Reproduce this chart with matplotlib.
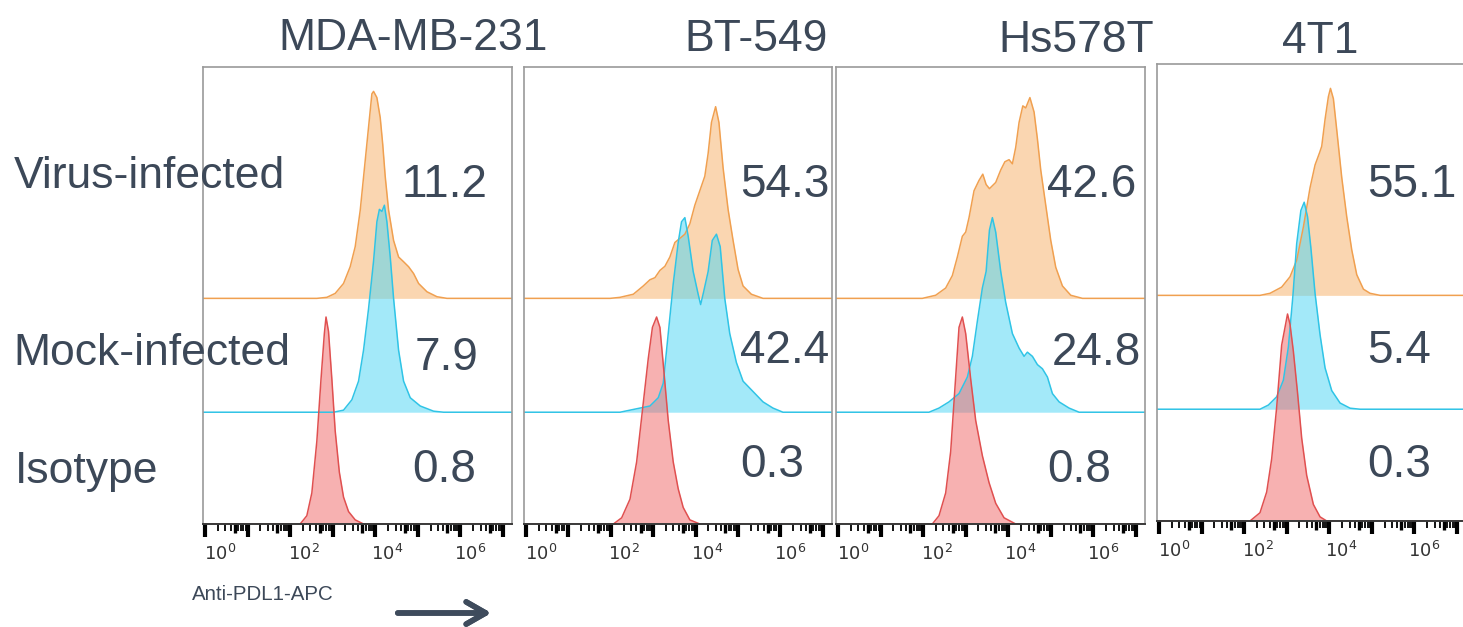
import numpy as np
import matplotlib.pyplot as plt

plt.rcParams['font.family'] = ['Liberation Sans', 'DejaVu Sans']

W, H = 1463, 627
TXT = '#3c4858'

cell_lines = ["MDA-MB-231", "BT-549", "Hs578T", "4T1"]
conditions = ["Virus-infected", "Mock-infected", "Isotype"]

# % PD-L1 positive per cell line
virus_pos = [11.2, 54.3, 42.6, 55.1]
mock_pos = [7.9, 42.4, 24.8, 5.4]
iso_pos = [0.8, 0.3, 0.8, 0.3]

# histograms: x = log10(APC), y = % of mode
mda_virus_x = [2.32, 2.56, 2.76, 2.96, 3.12, 3.24, 3.36, 3.48, 3.56, 3.64, 3.68, 3.76, 3.84, 3.90,
               3.96, 4.04, 4.16, 4.28, 4.40, 4.52, 4.64, 4.76, 4.96, 5.20, 5.44]
mda_virus_y = [0, 0.5, 2.4, 7.2, 15.3, 25, 42.5, 66.6, 82.7, 98.8, 100, 97, 87.3, 74.4,
               58.8, 42.7, 28, 20, 17.7, 15.3, 12, 7.2, 3.2, 0.8, 0]
mda_mock_x = [2.72, 2.96, 3.16, 3.32, 3.44, 3.56, 3.68, 3.76, 3.82, 3.88, 3.94, 4.00, 4.08, 4.16,
              4.28, 4.40, 4.56, 4.80, 5.12, 5.36]
mda_mock_y = [0, 1, 6, 15, 30, 50, 73, 92, 98, 97, 100, 92, 75, 55,
              30, 15, 7, 3, 0.5, 0]
mda_iso_x = [1.92, 2.08, 2.20, 2.32, 2.42, 2.50, 2.54, 2.60, 2.68, 2.76, 2.86, 2.96, 3.08, 3.24, 3.44]
mda_iso_y = [0, 4, 15, 40, 70, 92, 100, 93, 70, 45, 25, 13, 6, 2, 0]

bt_virus_x = [1.66, 1.90, 2.22, 2.46, 2.62, 2.74, 2.86, 2.98, 3.10, 3.22, 3.34, 3.46, 3.58, 3.70,
              3.82, 3.94, 4.02, 4.10, 4.20, 4.28, 4.38, 4.50, 4.62, 4.74, 4.86, 5.06, 5.34]
bt_virus_y = [0, 0.5, 2, 6, 9, 10, 13.5, 15.5, 20, 27, 29, 31, 36, 45,
              52, 59, 70, 85, 92.6, 85, 63, 43, 28, 14, 6, 2, 0]
bt_mock_x = [1.90, 2.14, 2.38, 2.62, 2.82, 2.94, 3.06, 3.18, 3.30, 3.38, 3.46, 3.54, 3.66, 3.78,
             3.84, 3.91, 4.02, 4.12, 4.22, 4.31, 4.42, 4.54, 4.70, 4.86, 5.10, 5.34, 5.58, 5.82]
bt_mock_y = [0, 1, 2, 3, 7, 14, 38, 62, 82, 92, 94, 85, 68, 57,
             52, 58, 68, 83, 86, 80, 55, 38, 24, 15, 10, 5, 2, 0]
bt_iso_x = [1.74, 1.94, 2.14, 2.30, 2.44, 2.58, 2.68, 2.78, 2.86, 2.95, 3.06, 3.18, 3.30, 3.42, 3.58, 3.82]
bt_iso_y = [0, 3, 12, 30, 55, 80, 95, 100, 95, 75, 50, 30, 17, 8, 2, 0]

hs_virus_x = [1.66, 1.98, 2.22, 2.38, 2.50, 2.62, 2.70, 2.78, 2.90, 3.02, 3.11, 3.19, 3.27, 3.42,
              3.54, 3.64, 3.74, 3.82, 3.90, 3.98, 4.07, 4.14, 4.24, 4.34, 4.42, 4.50, 4.62, 4.74,
              4.86, 5.02, 5.22, 5.50]
hs_virus_y = [0, 1.5, 5, 11, 20, 30, 32, 39, 52, 57, 60, 55, 53, 56,
              62, 66, 67, 65, 73, 85, 93, 92, 97, 90, 77, 62, 45, 28,
              15, 6, 1.5, 0]
hs_mock_x = [1.82, 2.06, 2.30, 2.54, 2.74, 2.86, 2.98, 3.10, 3.19, 3.27, 3.34, 3.42, 3.54, 3.66,
             3.82, 3.98, 4.10, 4.18, 4.30, 4.42, 4.54, 4.66, 4.78, 4.94, 5.18, 5.42]
hs_mock_y = [0, 2, 5, 9, 17, 27, 44, 60, 68, 88, 94, 87, 68, 53,
             38, 31, 27, 29, 27, 23, 21, 17, 9, 5, 2, 0]
hs_iso_x = [1.90, 2.06, 2.22, 2.34, 2.44, 2.54, 2.62, 2.70, 2.82, 2.94, 3.10, 3.26, 3.42, 3.62, 3.90]
hs_iso_y = [0, 4, 15, 35, 65, 95, 100, 92, 70, 50, 33, 20, 10, 3, 0]

t1_virus_x = [2.06, 2.30, 2.58, 2.78, 2.94, 3.10, 3.26, 3.38, 3.49, 3.54, 3.62, 3.70, 3.75, 3.82,
              3.90, 4.02, 4.14, 4.26, 4.38, 4.54, 4.70, 4.94]
t1_virus_y = [0, 1, 4, 9, 17, 33, 52, 63, 69, 72, 85, 96, 100, 95,
              80, 57, 38, 22, 10, 3, 1, 0]
t1_mock_x = [2.06, 2.26, 2.46, 2.62, 2.74, 2.85, 2.94, 3.04, 3.12, 3.20, 3.28, 3.38, 3.50, 3.62,
             3.78, 3.98, 4.22, 4.46]
t1_mock_y = [0, 2, 6, 14, 30, 55, 80, 96, 100, 93, 78, 56, 36, 20,
             9, 3, 0.5, 0]
t1_iso_x = [1.82, 2.06, 2.22, 2.34, 2.46, 2.58, 2.72, 2.78, 2.86, 2.96, 3.06, 3.18, 3.34, 3.50, 3.66]
t1_iso_y = [0, 4, 14, 30, 55, 85, 100, 95, 82, 62, 40, 22, 8, 2, 0]

panels = [
    [(mda_virus_x, mda_virus_y), (mda_mock_x, mda_mock_y), (mda_iso_x, mda_iso_y)],
    [(bt_virus_x, bt_virus_y), (bt_mock_x, bt_mock_y), (bt_iso_x, bt_iso_y)],
    [(hs_virus_x, hs_virus_y), (hs_mock_x, hs_mock_y), (hs_iso_x, hs_iso_y)],
    [(t1_virus_x, t1_virus_y), (t1_mock_x, t1_mock_y), (t1_iso_x, t1_iso_y)],
]

# fill colour, edge colour for virus / mock / isotype
styles = [('#f7b26b', '#f0a050'), ('#4fd6f5', '#30c4e6'), ('#f06a6a', '#e05050')]
offsets = [109, 54, 0]   # stacking offset of each trace, in % units
XMIN, XMAX = -0.41, 7.0

# panel boxes in pixels: left, right, top, bottom
boxes = [(203, 512, 67, 524), (524, 832, 67, 524), (836, 1145, 67, 524), (1157, 1466, 64, 521)]

fig = plt.figure(figsize=(W / 100, H / 100), dpi=100)


def fx(px):
    return px / W


def fy(py):
    return 1 - py / H


for i, (l, r, t, b) in enumerate(boxes):
    ax = fig.add_axes([fx(l), fy(b), (r - l) / W, (b - t) / H])
    ax_h = b - t
    for (xs, ys), (fc, ec), off in zip(panels[i], styles, offsets):
        xx = np.concatenate([[XMIN], xs, [XMAX]])
        yy = np.concatenate([[0], ys, [0]]) + off
        ax.fill_between(xx, off, yy, color=fc, alpha=0.52, lw=0)
        ax.plot(xx, yy, color=ec, lw=1.1)
    ax.set_xlim(XMIN, XMAX)
    ax.set_ylim(0, ax_h / 2.07)
    ax.set_yticks([])
    for s in ['top', 'left', 'right']:
        ax.spines[s].set_color('#9a9a9a')
        ax.spines[s].set_linewidth(1.2)
    ax.spines['bottom'].set_color('#3a3a3a')
    ax.spines['bottom'].set_linewidth(1.4)

    # decade labels
    ax.set_xticks([0, 2, 4, 6])
    ax.set_xticklabels([r'$\mathregular{10^{%d}}$' % k for k in [0, 2, 4, 6]],
                       fontsize=13, color='#333333',
                       family=['Liberation Sans Narrow', 'DejaVu Sans'])
    ax.tick_params(axis='x', length=0, pad=14)

    # ruler-style ticks under the axis
    trans = ax.get_xaxis_transform()
    big = [-0.36 + 1.02 * k for k in range(8)]
    small, mid = [], []
    for k in big[:-1]:
        for m in range(2, 10):
            pos = k + 1.02 * np.log10(m)
            (mid if m == 5 else small).append(pos)
    ax.vlines(big, 0, -13 / ax_h, transform=trans, colors='black', lw=3, clip_on=False)
    ax.vlines(mid, 0, -9 / ax_h, transform=trans, colors='black', lw=2.4, clip_on=False)
    ax.vlines(small, 0, -7 / ax_h, transform=trans, colors='black', lw=1.3, clip_on=False)

# column titles
title_pos = [(278, 50), (684, 51), (998, 52), (1282, 53)]
for name, (x, y) in zip(cell_lines, title_pos):
    fig.text(fx(x), fy(y), name, fontsize=32, color=TXT, va='baseline', ha='left')

# row labels
row_pos = [(14, 188), (13, 365), (15, 483)]
for name, (x, y) in zip(conditions, row_pos):
    fig.text(fx(x), fy(y), name, fontsize=32, color=TXT, va='baseline', ha='left', zorder=5)

# percentages
num_pos = [
    [(402, 197), (415, 370), (412, 482)],
    [(740, 197), (740, 363), (740, 477)],
    [(1047, 197), (1052, 365), (1047, 482)],
    [(1367, 197), (1367, 363), (1367, 477)],
]
for i in range(4):
    vals = [virus_pos[i], mock_pos[i], iso_pos[i]]
    for v, (x, y) in zip(vals, num_pos[i]):
        fig.text(fx(x), fy(y), '%.1f' % v, fontsize=33, color=TXT, va='baseline', ha='left')

fig.text(fx(192), fy(600), 'Anti-PDL1-APC', fontsize=14.8, color=TXT, va='baseline', ha='left')
fig.add_artist(plt.annotate('', xy=(fx(494), fy(613)), xytext=(fx(395), fy(613)),
                            xycoords='figure fraction', textcoords='figure fraction',
                            arrowprops=dict(arrowstyle='->,head_length=1.4,head_width=0.8',
                                            color='#3e4b5c', lw=4)))

fig.savefig('out.png', dpi=100)
